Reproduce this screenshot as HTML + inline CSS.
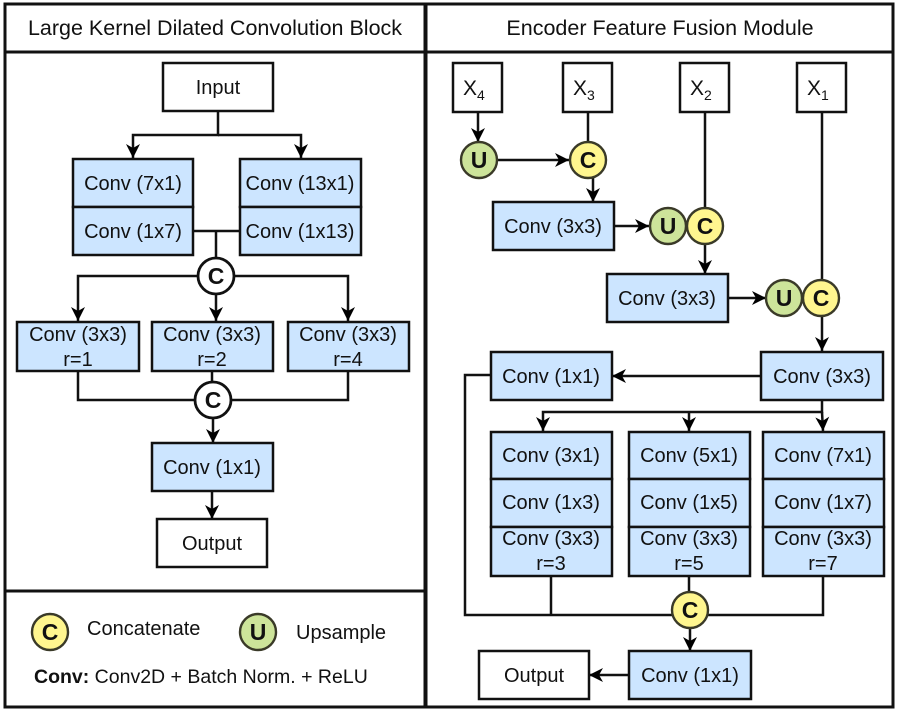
<!DOCTYPE html>
<html><head><meta charset="utf-8"><style>
html,body{margin:0;padding:0;background:#fff;}
svg{display:block;}
text{font-family:"Liberation Sans",sans-serif;fill:#111;}
</style></head><body>
<svg width="900" height="714" viewBox="0 0 900 714" xmlns="http://www.w3.org/2000/svg">
<defs>
<marker id="b" viewBox="-14 -7 14 14" refX="0" refY="0" markerWidth="14" markerHeight="14" orient="auto" markerUnits="userSpaceOnUse">
<path d="M-14,-7 L0,0 L-14,7 L-10,0 z" fill="#000"/>
</marker>
</defs>
<g fill="none" stroke="#111" stroke-width="3">
<rect x="5" y="4" width="420" height="703"/>
<rect x="426" y="4" width="467" height="703"/>
<line x1="5" y1="52" x2="893" y2="52"/>
<line x1="5" y1="591" x2="425" y2="591"/>
</g>
<text x="215" y="35" font-size="21.5" text-anchor="middle">Large Kernel Dilated Convolution Block</text>
<text x="660" y="35" font-size="21.5" text-anchor="middle">Encoder Feature Fusion Module</text>

<g stroke="#111" stroke-width="2.5" fill="none">
<polyline points="218,111 218,135 133,135 133,158" marker-end="url(#b)"/>
<polyline points="218,135 301,135 301,158" marker-end="url(#b)"/>
<polyline points="193,231 240,231"/>
<polyline points="216,231 216,258"/>
<polyline points="198,276 78,276 78,321" marker-end="url(#b)"/>
<polyline points="234,276 348,276 348,321" marker-end="url(#b)"/>
<polyline points="216,294 216,321" marker-end="url(#b)"/>
<polyline points="78,371 78,400 195,400"/>
<polyline points="348,371 348,400 231,400"/>
<polyline points="212,371 212,382"/>
<polyline points="213,418 213,443" marker-end="url(#b)"/>
<polyline points="212,491 212,519" marker-end="url(#b)"/>
<polyline points="478,112 478,142" marker-end="url(#b)"/>
<polyline points="497,160 569,160" marker-end="url(#b)"/>
<polyline points="588,112 588,142"/>
<polyline points="593,178 593,202" marker-end="url(#b)"/>
<polyline points="614,226 649,226" marker-end="url(#b)"/>
<polyline points="705,112 705,208"/>
<polyline points="705,244 705,274" marker-end="url(#b)"/>
<polyline points="728,298 766,298" marker-end="url(#b)"/>
<polyline points="822,112 822,280"/>
<polyline points="822,316 822,351" marker-end="url(#b)"/>
<polyline points="761,376 612,376" marker-end="url(#b)"/>
<polyline points="822,400 822,412 543,412 543,431" marker-end="url(#b)"/>
<polyline points="689,412 689,431" marker-end="url(#b)"/>
<polyline points="822,412 823,431" marker-end="url(#b)"/>
<polyline points="491,375 465,375 465,615 672,615"/>
<polyline points="551,576 551,615"/>
<polyline points="689,576 689,592"/>
<polyline points="823,576 823,615 708,615"/>
<polyline points="690,628 690,651" marker-end="url(#b)"/>
<polyline points="629,675 589,675" marker-end="url(#b)"/>
</g>

<g stroke="#111" stroke-width="2.5">
<rect x="163" y="63" width="110" height="48" fill="#fff"/>
<rect x="73" y="159" width="120" height="48" fill="#cce5ff"/>
<rect x="73" y="207" width="120" height="48" fill="#cce5ff"/>
<rect x="240" y="159" width="121" height="48" fill="#cce5ff"/>
<rect x="240" y="207" width="121" height="48" fill="#cce5ff"/>
<rect x="17" y="322" width="122" height="49" fill="#cce5ff"/>
<rect x="152" y="322" width="121" height="49" fill="#cce5ff"/>
<rect x="288" y="322" width="121" height="49" fill="#cce5ff"/>
<rect x="152" y="443" width="121" height="48" fill="#cce5ff"/>
<rect x="157" y="519" width="110" height="48" fill="#fff"/>
<rect x="453" y="63" width="49" height="49" fill="#fff"/>
<rect x="563" y="63" width="49" height="49" fill="#fff"/>
<rect x="680" y="63" width="49" height="49" fill="#fff"/>
<rect x="797" y="63" width="49" height="49" fill="#fff"/>
<rect x="493" y="202" width="121" height="48" fill="#cce5ff"/>
<rect x="607" y="274" width="121" height="48" fill="#cce5ff"/>
<rect x="761" y="352" width="122" height="48" fill="#cce5ff"/>
<rect x="491" y="352" width="121" height="48" fill="#cce5ff"/>
<rect x="491" y="432" width="121" height="47" fill="#cce5ff"/>
<rect x="491" y="479" width="121" height="48" fill="#cce5ff"/>
<rect x="491" y="527" width="121" height="49" fill="#cce5ff"/>
<rect x="629" y="432" width="121" height="47" fill="#cce5ff"/>
<rect x="629" y="479" width="121" height="48" fill="#cce5ff"/>
<rect x="629" y="527" width="121" height="49" fill="#cce5ff"/>
<rect x="763" y="432" width="121" height="47" fill="#cce5ff"/>
<rect x="763" y="479" width="121" height="48" fill="#cce5ff"/>
<rect x="763" y="527" width="121" height="49" fill="#cce5ff"/>
<rect x="629" y="651" width="122" height="48" fill="#cce5ff"/>
<rect x="479" y="651" width="110" height="48" fill="#fff"/>
</g>

<g stroke="#111" stroke-width="2.8">
<circle cx="216" cy="276" r="18" fill="#fff"/>
<circle cx="213" cy="400" r="18" fill="#fff"/>
</g>
<g stroke="#3a3a28" stroke-width="2.4">
<circle cx="479" cy="160" r="18" fill="#cde49a"/>
<circle cx="588" cy="160" r="18" fill="#fff68f"/>
<circle cx="668" cy="226" r="18" fill="#cde49a"/>
<circle cx="705" cy="226" r="18" fill="#fff68f"/>
<circle cx="784" cy="298" r="18" fill="#cde49a"/>
<circle cx="821" cy="298" r="18" fill="#fff68f"/>
<circle cx="690" cy="610" r="18" fill="#fff68f"/>
<circle cx="50" cy="632" r="18" fill="#fff68f"/>
<circle cx="258" cy="632" r="18" fill="#cde49a"/>
</g>
<g font-size="23" font-weight="bold" text-anchor="middle">
<text x="216" y="284">C</text><text x="213" y="408">C</text>
<text x="479" y="168">U</text><text x="588" y="168">C</text>
<text x="668" y="234">U</text><text x="705" y="234">C</text>
<text x="784" y="306">U</text><text x="821" y="306">C</text>
<text x="690" y="618">C</text>
<text x="50" y="640">C</text><text x="258" y="640">U</text>
</g>

<g font-size="20" text-anchor="middle">
<text x="218" y="94">Input</text>
<text x="133" y="190">Conv (7x1)</text>
<text x="133" y="238">Conv (1x7)</text>
<text x="300" y="190">Conv (13x1)</text>
<text x="300" y="238">Conv (1x13)</text>
<text x="78" y="341">Conv (3x3)</text><text x="78" y="366">r=1</text>
<text x="212" y="341">Conv (3x3)</text><text x="212" y="366">r=2</text>
<text x="348" y="341">Conv (3x3)</text><text x="348" y="366">r=4</text>
<text x="212" y="474">Conv (1x1)</text>
<text x="212" y="550">Output</text>
<text x="553" y="233">Conv (3x3)</text>
<text x="667" y="305">Conv (3x3)</text>
<text x="822" y="383">Conv (3x3)</text>
<text x="551" y="383">Conv (1x1)</text>
<text x="551" y="462">Conv (3x1)</text>
<text x="551" y="509">Conv (1x3)</text>
<text x="551" y="545">Conv (3x3)</text><text x="551" y="570">r=3</text>
<text x="689" y="462">Conv (5x1)</text>
<text x="689" y="509">Conv (1x5)</text>
<text x="689" y="545">Conv (3x3)</text><text x="689" y="570">r=5</text>
<text x="823" y="462">Conv (7x1)</text>
<text x="823" y="509">Conv (1x7)</text>
<text x="823" y="545">Conv (3x3)</text><text x="823" y="570">r=7</text>
<text x="690" y="682">Conv (1x1)</text>
<text x="534" y="682">Output</text>
</g>
<g font-size="21">
<text x="463" y="95">X<tspan font-size="14" dy="5">4</tspan></text>
<text x="573" y="95">X<tspan font-size="14" dy="5">3</tspan></text>
<text x="690" y="95">X<tspan font-size="14" dy="5">2</tspan></text>
<text x="807" y="95">X<tspan font-size="14" dy="5">1</tspan></text>
</g>
<text x="87" y="635" font-size="20">Concatenate</text>
<text x="296" y="639" font-size="20">Upsample</text>
<text x="34" y="683" font-size="19.5"><tspan font-weight="bold">Conv:</tspan> Conv2D + Batch Norm. + ReLU</text>
</svg>
</body></html>
